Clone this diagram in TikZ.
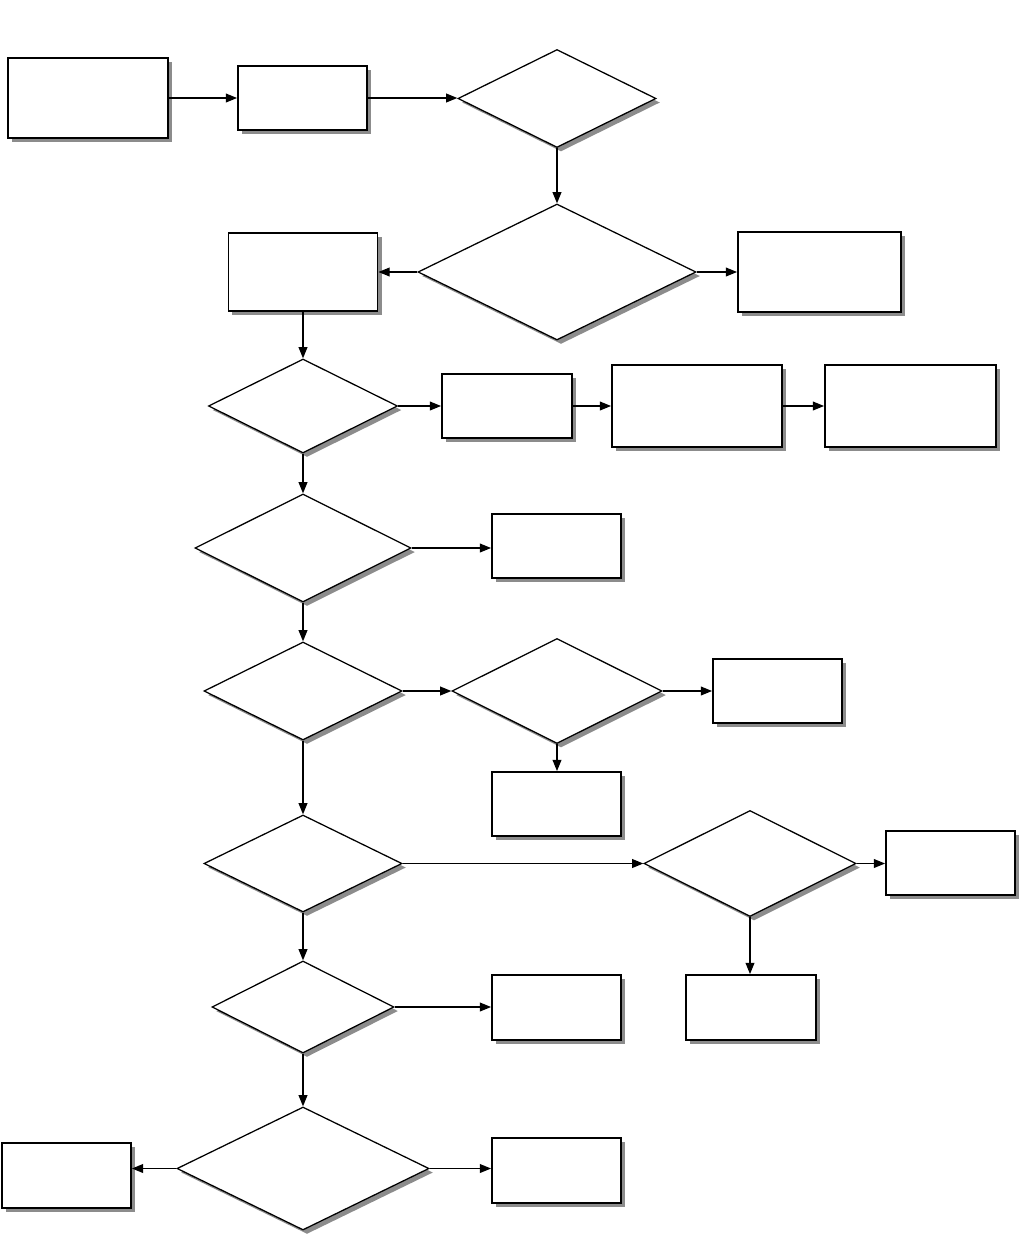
\documentclass[tikz,border=0pt]{standalone}
\usetikzlibrary{arrows.meta,shapes.geometric,shadows}
\tikzset{
  pb/.style={rectangle,draw,line width=1.3pt,fill=white,inner sep=0pt,
             drop shadow={shadow xshift=0.1cm,shadow yshift=-0.1cm,fill=black!45,opacity=1}},
  dc/.style={diamond,draw,line width=0.9pt,fill=white,inner sep=0pt,
             drop shadow={shadow xshift=0.1cm,shadow yshift=-0.1cm,fill=black!45,opacity=1}},
  ar/.style={-{Triangle[length=2.8mm,width=2.2mm]},line width=0.9pt},
  every picture/.style={line cap=butt,line join=miter}}
\begin{document}
\begin{tikzpicture}[x=0.025cm,y=-0.025cm]
  \useasboundingbox (0,0) rectangle (1022,1238);
  % top row
  \node[pb,minimum width=4cm,minimum height=2cm] (start) at (88,98) {};
  \node[pb,minimum width=3.225cm,minimum height=1.6cm] (prep) at (302.5,98) {};
  \node[dc,minimum width=4.95cm,minimum height=2.45cm] (q1) at (557,98.5) {};
  \draw[ar] (start)--(prep); \draw[ar] (prep.east)--(prep.east-|q1.west);
  % second decision
  \node[dc,minimum width=6.95cm,minimum height=3.4cm] (q2) at (557,272) {};
  \node[pb,minimum width=3.725cm,minimum height=1.95cm] (left2) at (303,272) {};
  \node[pb,minimum width=4.075cm,minimum height=2cm] (right2) at (819.5,272) {};
  \draw[ar] (q1.south)--(q2.north); \draw[ar] (q2.west)--(left2); \draw[ar] (q2.east)--(right2);
  % third decision and chain
  \node[dc,minimum width=4.725cm,minimum height=2.35cm] (q3) at (303,406) {};
  \node[pb,minimum width=3.25cm,minimum height=1.6cm] (s1) at (507,406) {};
  \node[pb,minimum width=4.25cm,minimum height=2.05cm] (s2) at (697,406) {};
  \node[pb,minimum width=4.275cm,minimum height=2.05cm] (s3) at (910.5,406) {};
  \draw[ar] (left2)--(q3.north); \draw[ar] (q3.east)--(s1); \draw[ar] (s1)--(s2); \draw[ar] (s2)--(s3);
  % fourth decision
  \node[dc,minimum width=5.4cm,minimum height=2.7cm] (q4) at (303,548) {};
  \node[pb,minimum width=3.225cm,minimum height=1.6cm] (r4) at (556.5,546) {};
  \draw[ar] (q3.south)--(q4.north); \draw[ar] (q4.east)--(q4.east-|r4.west);
  % fifth decision and its branch
  \node[dc,minimum width=4.95cm,minimum height=2.45cm] (q5) at (303,691) {};
  \node[dc,minimum width=5.25cm,minimum height=2.625cm] (q6) at (557,691) {};
  \node[pb,minimum width=3.225cm,minimum height=1.6cm] (r6) at (777.5,691) {};
  \node[pb,minimum width=3.225cm,minimum height=1.6cm] (b6) at (556.5,804) {};
  \draw[ar] (q4.south)--(q5.north); \draw[ar] (q5.east)--(q6.west);
  \draw[ar] (q6.east)--(r6); \draw[ar] (q6.south)--(q6.south|-b6.north);
  % seventh decision and its branch
  \node[dc,minimum width=4.95cm,minimum height=2.425cm] (q7) at (303,863.5) {};
  \node[dc,minimum width=5.3cm,minimum height=2.65cm] (q8) at (750,863.5) {};
  \node[pb,minimum width=3.225cm,minimum height=1.6cm] (r8) at (950.5,863) {};
  \node[pb,minimum width=3.25cm,minimum height=1.625cm] (b8) at (751,1007.5) {};
  \draw[ar] (q5.south)--(q7.north); \draw[ar] (q7.east)--(q8.west);
  \draw[ar] (q8.east)--(q8.east-|r8.west); \draw[ar] (q8.south)--(q8.south|-b8.north);
  % ninth decision
  \node[dc,minimum width=4.55cm,minimum height=2.3cm] (q9) at (303,1007) {};
  \node[pb,minimum width=3.225cm,minimum height=1.625cm] (r9) at (556.5,1007.5) {};
  \draw[ar] (q7.south)--(q9.north); \draw[ar] (q9.east)--(q9.east-|r9.west);
  % last decision
  \node[dc,minimum width=6.3cm,minimum height=3.075cm] (q10) at (303,1168.5) {};
  \node[pb,minimum width=3.225cm,minimum height=1.625cm] (l10) at (66.5,1175.5) {};
  \node[pb,minimum width=3.225cm,minimum height=1.625cm] (r10) at (556.5,1170.5) {};
  \draw[ar] (q9.south)--(q10.north); \draw[ar] (q10.west)--(q10.west-|l10.east);
  \draw[ar] (q10.east)--(q10.east-|r10.west);
\end{tikzpicture}
\end{document}
